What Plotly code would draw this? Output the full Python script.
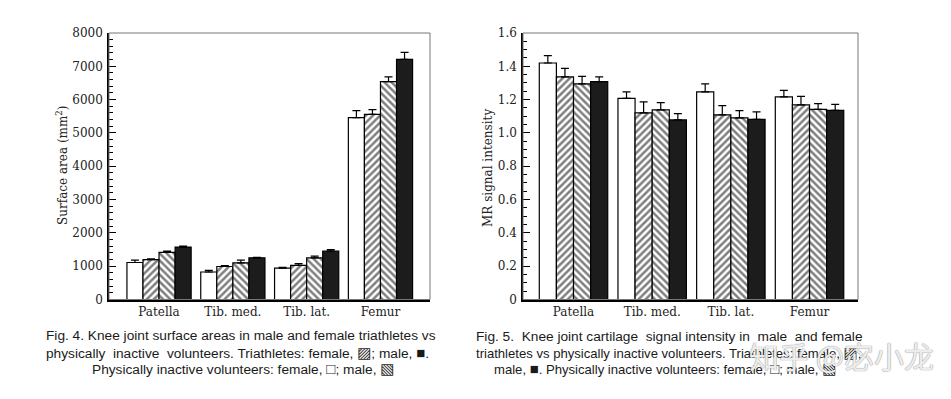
import plotly.graph_objects as go

W, H = 951, 399

categories = ["Patella", "Tib. med.", "Tib. lat.", "Femur"]
series_names = ["Inactive, female", "Triathletes, female", "Inactive, male", "Triathletes, male"]

# Fig. 4 surface area (mm^2)
area_inactive_female = [1110, 825, 940, 5460]
area_inactive_female_err = [70, 50, 25, 210]
area_tri_female = [1195, 990, 1025, 5560]
area_tri_female_err = [25, 25, 50, 140]
area_inactive_male = [1415, 1100, 1250, 6540]
area_inactive_male_err = [40, 80, 50, 140]
area_tri_male = [1575, 1250, 1450, 7210]
area_tri_male_err = [25, 15, 50, 210]

# Fig. 5 MR signal intensity
sig_inactive_female = [1.420, 1.208, 1.246, 1.216]
sig_inactive_female_err = [0.044, 0.038, 0.048, 0.040]
sig_tri_female = [1.336, 1.120, 1.108, 1.168]
sig_tri_female_err = [0.052, 0.066, 0.056, 0.052]
sig_inactive_male = [1.294, 1.138, 1.090, 1.142]
sig_inactive_male_err = [0.046, 0.044, 0.044, 0.034]
sig_tri_male = [1.308, 1.078, 1.082, 1.136]
sig_tri_male_err = [0.028, 0.038, 0.044, 0.036]

sig_tick_vals = [0, 0.2, 0.4, 0.6, 0.8, 1.0, 1.2, 1.4, 1.6]
sig_tick_labels = ["0", "0.2", "0.4", "0.6", "0.8", "1.0", "1.2", "1.4", "1.6"]

styles = [
    dict(color="white", pattern=None),
    dict(color="white", pattern=dict(shape="/", fgcolor="black", bgcolor="white", size=5, solidity=0.5)),
    dict(color="white", pattern=dict(shape="\\", fgcolor="black", bgcolor="white", size=5, solidity=0.5)),
    dict(color="#1c1c1c", pattern=None),
]

fig = go.Figure()

def add_group(vals_list, errs_list, xa, ya):
    for name, vals, errs, st in zip(series_names, vals_list, errs_list, styles):
        marker = dict(color=st["color"], line=dict(color="black", width=1.2))
        if st["pattern"]:
            marker["pattern"] = st["pattern"]
        fig.add_trace(go.Bar(
            x=categories, y=vals, name=name, xaxis=xa, yaxis=ya,
            marker=marker, showlegend=False,
            error_y=dict(type="data", symmetric=False, array=errs,
                         arrayminus=[0] * len(errs), color="black",
                         thickness=1.2, width=4),
        ))

add_group([area_inactive_female, area_tri_female, area_inactive_male, area_tri_male],
          [area_inactive_female_err, area_tri_female_err, area_inactive_male_err, area_tri_male_err],
          "x", "y")
add_group([sig_inactive_female, sig_tri_female, sig_inactive_male, sig_tri_male],
          [sig_inactive_female_err, sig_tri_female_err, sig_inactive_male_err, sig_tri_male_err],
          "x2", "y2")

serif = dict(family="DejaVu Serif", size=12, color="#222")
ybot = (H - 299.5) / H
ytop = (H - 33) / H

xcommon = dict(type="category", showline=True, linecolor="black", linewidth=1.5,
               ticks="", tickfont=serif, showgrid=False, zeroline=False,
               fixedrange=True, automargin=False)
ycommon = dict(showline=True, linecolor="black", linewidth=1.5, ticks="inside",
               ticklen=7, tickcolor="black", tickwidth=1, tickfont=serif,
               showgrid=False, zeroline=False, ticklabelstandoff=2, automargin=False)

fig.update_layout(
    width=W, height=H,
    margin=dict(l=0, r=0, t=0, b=0, autoexpand=False),
    paper_bgcolor="white", plot_bgcolor="white",
    barmode="group",
    xaxis=dict(domain=[109 / W, 430 / W], range=[-0.678, 3.671], anchor="y", **xcommon),
    yaxis=dict(domain=[ybot, ytop], range=[0, 8000], dtick=1000, anchor="x",
               minor=dict(dtick=200, ticks="inside", ticklen=4, tickcolor="black"),
               **ycommon),
    xaxis2=dict(domain=[523 / W, 858 / W], range=[-0.642, 3.616], anchor="y2", **xcommon),
    yaxis2=dict(domain=[ybot, ytop], range=[0, 1.6], tickmode="array",
                tickvals=sig_tick_vals, ticktext=sig_tick_labels, anchor="x2",
                minor=dict(dtick=0.05, ticks="inside", ticklen=4, tickcolor="black"),
                **ycommon),
    bargap=0.13, bargroupgap=0,
)

# frames
for xr, yr in [("x domain", "y domain"), ("x2 domain", "y2 domain")]:
    fig.add_shape(type="rect", xref=xr, yref=yr, x0=0, x1=1, y0=0, y1=1,
                  line=dict(color="#777", width=1), layer="above")

# axis titles
fig.add_annotation(text="Surface area (mm<sup>2</sup>)", textangle=-90, x=62 / W, y=(H - 166) / H,
                   xref="paper", yref="paper", showarrow=False, font=serif,
                   xanchor="center", yanchor="middle")
fig.add_annotation(text="MR signal intensity", textangle=-90, x=488 / W, y=(H - 168) / H,
                   xref="paper", yref="paper", showarrow=False, font=serif,
                   xanchor="center", yanchor="middle")

sans = dict(family="Liberation Sans, DejaVu Sans", size=13.7, color="#1a1a1a")
sans_small = dict(sans, size=13.1)
NB = "\u00a0"
def icon(ch):
    return f'<span style="font-size:15px">{ch}</span>'
HF, BK, WH, HB = icon("\u25a8"), icon("\u25a0"), icon("\u25a1"), icon("\u25a7")
cap_lines = [
    ("Fig. 4. Knee joint surface areas in male and female triathletes vs", 44, 335, sans),
    (f"physically{NB*2}inactive{NB*2}volunteers. Triathletes: female, {HF}; male, {BK}.", 44, 352, sans),
    (f"Physically inactive volunteers: female, {WH}; male, {HB}", 90, 368, sans),
    (f"Fig.{NB}5.{NB*2}Knee{NB}joint{NB}cartilage{NB*2}signal{NB}intensity{NB}in{NB*2}male{NB*2}and{NB}female", 474, 336, sans),
    (f"triathletes vs physically inactive volunteers. Triathletes: female, {HF};", 474, 352, sans_small),
    (f"male, {BK}. Physically inactive volunteers: female, {WH}; male, {HB}", 492, 368, sans_small),
]
for txt, x, y, fnt in cap_lines:
    fig.add_annotation(text=txt, x=x / W, y=(H - y) / H, xref="paper", yref="paper",
                       showarrow=False, xanchor="left", yanchor="middle", font=fnt)

# watermark
fig.add_annotation(text="知乎 @宓小龙", x=841 / W, y=(H - 355) / H, xref="paper", yref="paper",
                   showarrow=False, xanchor="center", yanchor="middle",
                   font=dict(family="Noto Sans CJK SC", size=30, color="rgba(255,255,255,0.85)",
                             shadow="0px 0px 1px #888, 0px 0px 1px #888"))

fig.write_html("out.html", config={"displayModeBar": False},
               post_script="document.body.style.margin='0px';")
